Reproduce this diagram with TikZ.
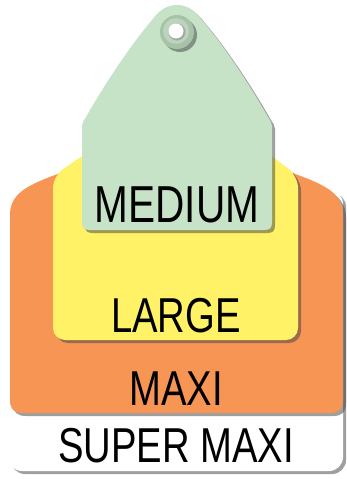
\documentclass[tikz,border=0pt]{standalone}
\usepackage{fontspec}
\setmainfont{Liberation Sans}[FakeStretch=0.78]
\usetikzlibrary{shadows}
\definecolor{medgreen}{RGB}{198,227,199}
\definecolor{largeyellow}{RGB}{255,242,102}
\definecolor{maxiorange}{RGB}{247,149,85}
\begin{document}
\begin{tikzpicture}[x=1pt, y=-1pt,
    tagshadow/.style = {drop shadow={shadow xshift=3pt, shadow yshift=-3pt, opacity=0.5, fill=black!75}},
    tagtext/.style = {anchor=base, font=\fontsize{49}{49}\selectfont}]
    \useasboundingbox (0,0) rectangle (347,479);
    % super maxi
    \fill[white, tagshadow, rounded corners=14pt] (8,190) rectangle (343,471);
    % maxi
    \fill[maxiorange, tagshadow] (10,400) -- (10,215) .. controls (10,195) and (25,186) .. (55,175) -- (60,173) -- (293,173) -- (298,175) .. controls (328,186) and (343,195) .. (343,215) -- (343,400) .. controls (343,410) and (338,413) .. (330,413) -- (23,413) .. controls (15,413) and (10,410) .. (10,400) -- cycle;
    % large
    \fill[largeyellow, tagshadow, rounded corners=12pt] (53,340) -- (53,176) -- (88,152) -- (266,152) -- (298,176) -- (298,340) -- cycle;
    % medium
    \fill[medgreen, tagshadow] (82,222) -- (82,126) .. controls (82,123) and (84,120) .. (86,117) .. controls (110,75) and (135,40) .. (152,20) .. controls (160,9) and (168,5) .. (177,5) .. controls (186,5) and (194,9) .. (202,20) .. controls (219,40) and (244,75) .. (268,117) .. controls (270,120) and (272,123) .. (272,126) -- (272,222) .. controls (272,228) and (270,230) .. (264,230) -- (90,230) .. controls (84,230) and (82,228) .. (82,222) -- cycle;
    % hole
    \fill[medgreen!85!black, tagshadow] (177,32) circle (17pt);
    \fill[medgreen!94!black] (176,31) circle (13pt);
    \fill[black!35] (177,32) circle (8.5pt);
    \fill[white] (176,31) circle (7.5pt);
    % labels
    \node[tagtext, font=\fontsize{52}{52}\selectfont] (medium) at (177,222) {MEDIUM};
    \node[tagtext] (large) at (176,332) {LARGE};
    \node[tagtext] (maxi) at (176,405) {MAXI};
    \node[tagtext] (supermaxi) at (176,462) {SUPER MAXI};
\end{tikzpicture}
\end{document}
